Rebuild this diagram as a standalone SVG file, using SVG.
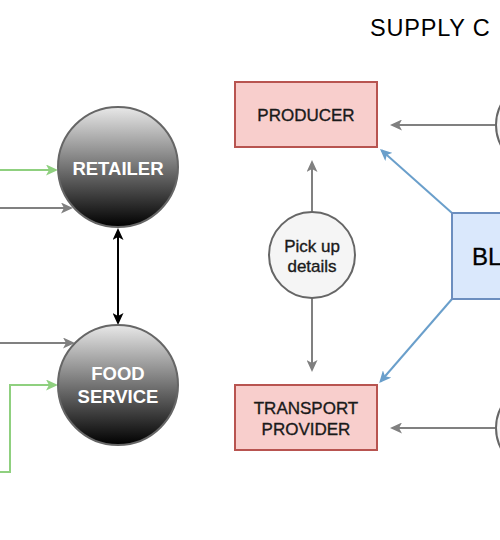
<svg xmlns="http://www.w3.org/2000/svg" width="500" height="540" viewBox="0 0 500 540">
<style>
.title{font-family:"Liberation Sans",Arial,sans-serif;font-size:23.5px;fill:#000;letter-spacing:0.8px}
.node-dark{stroke:#666;stroke-width:2;fill:url(#darkGrad)}
.dark-txt{font-family:"Liberation Sans",Arial,sans-serif;font-size:18.5px;font-weight:bold;fill:#fff;text-anchor:middle}
.red{fill:#f8cecc;stroke:#b85450;stroke-width:2}
.box-txt{font-family:"Liberation Sans",Arial,sans-serif;font-size:17px;fill:#1a1a1a;stroke:#1a1a1a;stroke-width:0.35;text-anchor:middle}
.pick{fill:#f5f5f5;stroke:#666;stroke-width:2}
.blue{fill:#dae8fc;stroke:#6c8ebf;stroke-width:2}
.big-txt{font-family:"Liberation Sans",Arial,sans-serif;font-size:24px;fill:#000;stroke:#000;stroke-width:0.3}
.gray{stroke:#808080;stroke-width:2;fill:none;marker-end:url(#ahGray)}
.green{stroke:#8fd07f;stroke-width:2;fill:none;marker-end:url(#ahGreen)}
.bluel{stroke:#6a9fcb;stroke-width:2;fill:none;marker-end:url(#ahBlue)}
.black{stroke:#000;stroke-width:2;fill:none;marker-end:url(#ahBlack);marker-start:url(#ahBlackS)}
</style>
<defs>
<linearGradient id="darkGrad" x1="0" y1="0" x2="0" y2="1">
<stop offset="0" stop-color="#e8e8e8"/>
<stop offset="1" stop-color="#000"/>
</linearGradient>
<marker id="ahGray" viewBox="0 0 12 11" refX="10" refY="5.5" markerWidth="12" markerHeight="11" markerUnits="userSpaceOnUse" orient="auto"><path d="M0,0 L12,5.5 L0,11 L3,5.5 z" fill="#808080"/></marker>
<marker id="ahGreen" viewBox="0 0 12 11" refX="10" refY="5.5" markerWidth="12" markerHeight="11" markerUnits="userSpaceOnUse" orient="auto"><path d="M0,0 L12,5.5 L0,11 L3,5.5 z" fill="#8fd07f"/></marker>
<marker id="ahBlue" viewBox="0 0 12 11" refX="10" refY="5.5" markerWidth="12" markerHeight="11" markerUnits="userSpaceOnUse" orient="auto"><path d="M0,0 L12,5.5 L0,11 L3,5.5 z" fill="#6a9fcb"/></marker>
<marker id="ahBlack" viewBox="0 0 12 11" refX="10" refY="5.5" markerWidth="12" markerHeight="11" markerUnits="userSpaceOnUse" orient="auto"><path d="M0,0 L12,5.5 L0,11 L3,5.5 z" fill="#000"/></marker>
<marker id="ahBlackS" viewBox="0 0 12 11" refX="10" refY="5.5" markerWidth="12" markerHeight="11" markerUnits="userSpaceOnUse" orient="auto-start-reverse"><path d="M0,0 L12,5.5 L0,11 L3,5.5 z" fill="#000"/></marker>
</defs>
<rect width="500" height="540" fill="#fff"/>
<text class="title" x="370" y="36">SUPPLY C</text>
<g id="connectors">
<line class="green" x1="0" y1="170" x2="56" y2="170"/>
<line class="gray" x1="0" y1="208" x2="71" y2="208"/>
<line class="gray" x1="0" y1="343" x2="73" y2="343"/>
<polyline class="green" points="0,472 10,472 10,385 56,385"/>
<line class="black" x1="118" y1="230" x2="118" y2="323"/>
<line class="gray" x1="495" y1="125" x2="392" y2="125"/>
<line class="gray" x1="495" y1="428" x2="392" y2="428"/>
<line class="gray" x1="312" y1="212" x2="312" y2="162"/>
<line class="gray" x1="312" y1="298" x2="312" y2="370"/>
<line class="bluel" x1="452" y1="213" x2="381.5" y2="150.3"/>
<line class="bluel" x1="452" y1="299" x2="380.5" y2="381.5"/>
</g>
<g id="retailer">
<circle class="node-dark" cx="118" cy="167" r="60"/>
<text class="dark-txt" x="118" y="175">RETAILER</text>
</g>
<g id="food-service">
<circle class="node-dark" cx="118" cy="385" r="60"/>
<text class="dark-txt" x="118" y="380">FOOD</text>
<text class="dark-txt" x="118" y="403">SERVICE</text>
</g>
<g id="producer">
<rect class="red" x="235" y="82" width="142" height="65"/>
<text class="box-txt" x="306" y="121">PRODUCER</text>
</g>
<g id="transport-provider">
<rect class="red" x="235" y="385" width="142" height="65"/>
<text class="box-txt" x="306" y="414">TRANSPORT</text>
<text class="box-txt" x="306" y="435">PROVIDER</text>
</g>
<g id="pick-up-details">
<circle class="pick" cx="312" cy="255" r="43"/>
<text class="box-txt" x="312" y="252">Pick up</text>
<text class="box-txt" x="312" y="272">details</text>
</g>
<g id="blockchain">
<rect class="blue" x="452" y="213" width="100" height="86"/>
<text class="big-txt" x="472" y="265">BL</text>
</g>
<g id="right-node-top">
<circle class="pick" cx="539" cy="125" r="43"/>
</g>
<g id="right-node-bottom">
<circle class="pick" cx="539" cy="428" r="43"/>
</g>
</svg>
